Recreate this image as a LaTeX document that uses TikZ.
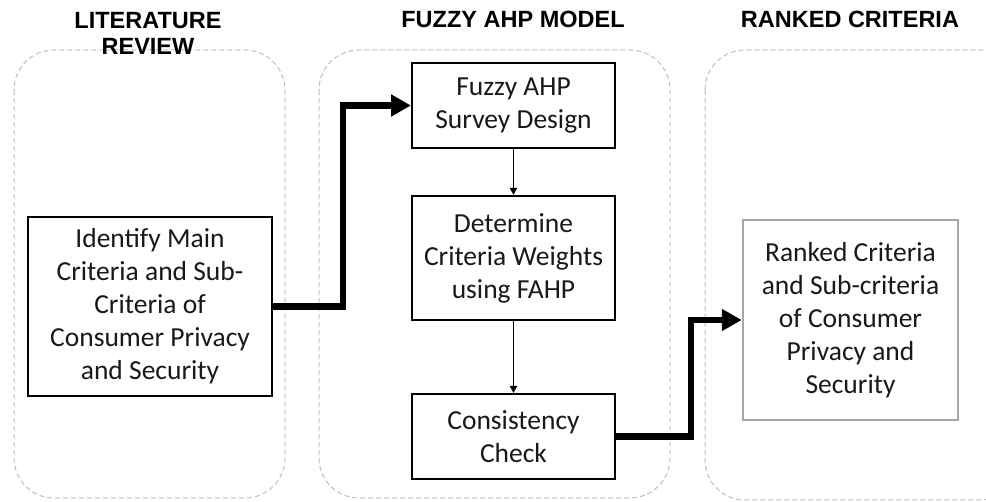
\documentclass[tikz,border=0pt]{standalone}
\usepackage{fontspec}
\setmainfont{Carlito}
\newfontfamily\headfont{Liberation Sans}
\usetikzlibrary{arrows.meta}
\tikzset{
  container/.style={draw=black!25, line width=1pt, dash pattern=on 5pt off 3pt, rounded corners=40pt},
  procbox/.style={draw=black, line width=2pt, inner sep=0pt, align=center,
    text=black!90, font=\fontsize{27.5}{33}\selectfont},
  resultbox/.style={procbox, draw=black!35, line width=2.5pt},
  heading/.style={inner sep=0pt, align=center, font=\headfont\bfseries\fontsize{23.5}{26}\selectfont},
  bigarrow/.style={line width=6.5pt, -{Triangle[length=20pt,width=21pt]}},
  smallarrow/.style={line width=1.8pt, -{Triangle[length=7pt,width=7pt]}},
}
\begin{document}
\begin{tikzpicture}[x=1pt,y=-1pt]
\useasboundingbox (0,0) rectangle (986,502);
\clip (0,0) rectangle (986,502);
\fill[white] (0,0) rectangle (986,502);
% containers
\draw[container] (14,50) rectangle (285,498);
\draw[container] (319,50) rectangle (670,498);
\draw[container] (705,50) rectangle (1020,500);
% headings
\node[heading] (hlit) at (148,33) {LITERATURE\\REVIEW};
\node[heading, anchor=base] (hfahp) at (513,28) {FUZZY AHP MODEL};
\node[heading, anchor=base] (hrank) at (850,28) {RANKED CRITERIA};
% boxes
\node[procbox, minimum width=244pt, minimum height=179pt] (lit) at (150,306.5)
  {Identify Main\\Criteria and Sub-\\Criteria of\\Consumer Privacy\\and Security};
\node[procbox, minimum width=203pt, minimum height=85pt] (b1) at (513.5,105.5)
  {Fuzzy AHP\\Survey Design};
\node[procbox, minimum width=203pt, minimum height=124pt] (b2) at (513.5,258)
  {Determine\\Criteria Weights\\using FAHP};
\node[procbox, minimum width=203pt, minimum height=85pt] (b3) at (513.5,436.5)
  {Consistency\\Check};
\node[resultbox, minimum width=215pt, minimum height=200pt] (rk) at (850.5,320)
  {Ranked Criteria\\and Sub-criteria\\of Consumer\\Privacy and\\Security};
% connectors
\draw[bigarrow] (lit.east) -- ++(70,0) |- (b1.west);
\draw[smallarrow] (b1.south) -- (b2.north);
\draw[smallarrow] (b2.south) -- (b3.north);
\draw[bigarrow] (b3.east) -- ++(75,0) |- (rk.west);
\end{tikzpicture}
\end{document}
